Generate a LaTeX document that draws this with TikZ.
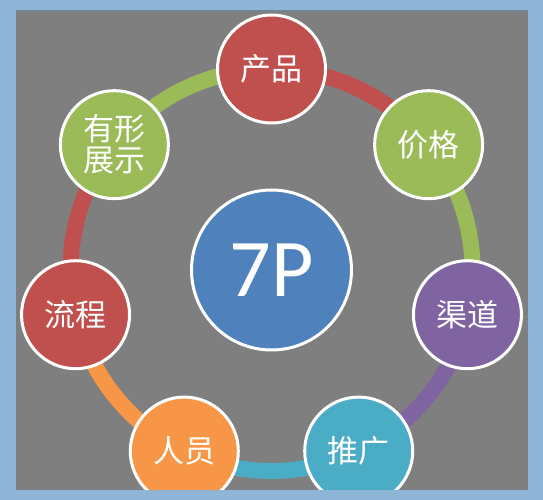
\documentclass[tikz,border=0pt]{standalone}
\usepackage{fontspec}
\newfontfamily\cjk{Noto Sans CJK SC}
\newfontfamily\latinf{Carlito}
\definecolor{frameblue}{HTML}{8EB4D6}
\definecolor{bggray}{HTML}{7F7F7F}
\definecolor{shadowgray}{HTML}{76828E}
\definecolor{pred}{HTML}{C0504D}
\definecolor{pgreen}{HTML}{9BBB59}
\definecolor{ppurple}{HTML}{8064A2}
\definecolor{paqua}{HTML}{4BACC6}
\definecolor{porange}{HTML}{F79646}
\definecolor{pblue}{HTML}{4F81BD}
\tikzset{
  pcircle/.style={circle, draw=white, line width=3pt, minimum size=108pt, inner sep=0pt,
    text=white, font=\cjk\fontsize{31}{31}\selectfont, align=center},
  hubcircle/.style={circle, draw=white, line width=3pt, minimum size=160pt, inner sep=0pt,
    text=white, font=\latinf\fontsize{82}{84}\selectfont},
  ringarc/.style={line width=16pt}
}
\begin{document}
\begin{tikzpicture}[x=1pt,y=1pt]
\useasboundingbox (0,0) rectangle (543,500);
\fill[frameblue] (0,0) rectangle (543,500);
\fill[bggray] (16,10) rectangle (528,490);
\fill[shadowgray] (16,487) rectangle (528,490);
\coordinate (O) at (271.5,230);
% outer circles positions
\path (O) ++(90:201) coordinate (p0);
\path (O) ++(38.571:201) coordinate (p1);
\path (O) ++(-12.857:201) coordinate (p2);
\path (O) ++(-64.286:201) coordinate (p3);
\path (O) ++(-115.714:201) coordinate (p4);
\path (O) ++(-167.143:201) coordinate (p5);
\path (O) ++(141.429:201) coordinate (p6);
% ring arcs
\draw[ringarc, pred]    (p0) arc[start angle=90,       end angle=38.571,   radius=201];
\draw[ringarc, pgreen]  (p1) arc[start angle=38.571,   end angle=-12.857,  radius=201];
\draw[ringarc, ppurple] (p2) arc[start angle=-12.857,  end angle=-64.286,  radius=201];
\draw[ringarc, paqua]   (p3) arc[start angle=-64.286,  end angle=-115.714, radius=201];
\draw[ringarc, porange] (p4) arc[start angle=-115.714, end angle=-167.143, radius=201];
\draw[ringarc, pred]    (p5) arc[start angle=-167.143, end angle=-218.571, radius=201];
\draw[ringarc, pgreen]  (p6) arc[start angle=141.429,  end angle=90,       radius=201];
% circles
\node[pcircle, fill=pred]    (n0) at (p0) {产品};
\node[pcircle, fill=pgreen]  (n1) at (p1) {价格};
\node[pcircle, fill=ppurple] (n2) at (p2) {渠道};
\node[pcircle, fill=paqua]   (n3) at (p3) {推广};
\node[pcircle, fill=porange] (n4) at (p4) {人员};
\node[pcircle, fill=pred]    (n5) at (p5) {流程};
\node[pcircle, fill=pgreen]  (n6) at (p6) {有形\\展示};
\node[hubcircle, fill=pblue] (hub) at (O) {7P};
% bottom frame strip over circles
\fill[frameblue] (0,0) rectangle (543,10);
\end{tikzpicture}
\end{document}
